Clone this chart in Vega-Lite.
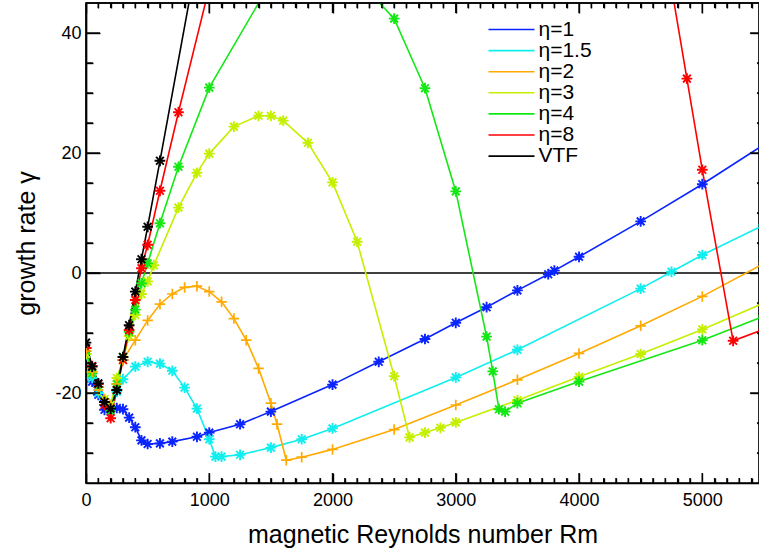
{
  "$schema": "https://vega.github.io/schema/vega-lite/v6.json",
  "width": 673,
  "height": 480,
  "autosize": {"type": "none"},
  "padding": {"left": 86, "top": 3, "right": 0, "bottom": 73},
  "background": "white",
  "config": {
    "font": "Liberation Sans",
    "view": {"stroke": "black", "strokeWidth": 1.7},
    "axis": {
      "domainColor": "black",
      "domainWidth": 1.7,
      "ticks": false,
      "tickSize": 0,
      "tickColor": "black",
      "tickWidth": 1.4,
      "grid": false,
      "labelColor": "black",
      "labelFont": "Liberation Sans",
      "labelFontSize": 18,
      "titleColor": "black",
      "titleFont": "Liberation Sans",
      "titleFontSize": 25,
      "titleFontWeight": "normal",
      "labelFlush": false,
      "labelOverlap": false
    },
    "legend": {
      "orient": "none",
      "legendX": 415,
      "legendY": 16,
      "symbolType": "M-4.6,0L4.6,0",
      "symbolSize": 100,
      "symbolStrokeWidth": 1.6,
      "labelFont": "Liberation Sans",
      "labelFontSize": 21,
      "labelColor": "black",
      "labelOffset": 16.5,
      "rowPadding": -0.9,
      "padding": 0
    }
  },
  "datasets": {
    "growth": [
      {"series": "η=1", "Rm": 0, "gamma": -12.5},
      {"series": "η=1", "Rm": 50, "gamma": -18.1},
      {"series": "η=1", "Rm": 100, "gamma": -20.3},
      {"series": "η=1", "Rm": 150, "gamma": -22.8},
      {"series": "η=1", "Rm": 200, "gamma": -23.0},
      {"series": "η=1", "Rm": 250, "gamma": -22.5},
      {"series": "η=1", "Rm": 300, "gamma": -22.7},
      {"series": "η=1", "Rm": 350, "gamma": -24.1},
      {"series": "η=1", "Rm": 400, "gamma": -25.7},
      {"series": "η=1", "Rm": 450, "gamma": -27.9},
      {"series": "η=1", "Rm": 500, "gamma": -28.5},
      {"series": "η=1", "Rm": 600, "gamma": -28.4},
      {"series": "η=1", "Rm": 700, "gamma": -28.1},
      {"series": "η=1", "Rm": 900, "gamma": -27.3},
      {"series": "η=1", "Rm": 1000, "gamma": -26.6},
      {"series": "η=1", "Rm": 1250, "gamma": -25.2},
      {"series": "η=1", "Rm": 1500, "gamma": -23.1},
      {"series": "η=1", "Rm": 2000, "gamma": -18.6},
      {"series": "η=1", "Rm": 2375, "gamma": -14.8},
      {"series": "η=1", "Rm": 2750, "gamma": -11.0},
      {"series": "η=1", "Rm": 3000, "gamma": -8.3},
      {"series": "η=1", "Rm": 3250, "gamma": -5.7},
      {"series": "η=1", "Rm": 3500, "gamma": -2.9},
      {"series": "η=1", "Rm": 3750, "gamma": -0.2},
      {"series": "η=1", "Rm": 3800, "gamma": 0.4},
      {"series": "η=1", "Rm": 4000, "gamma": 2.7},
      {"series": "η=1", "Rm": 4500, "gamma": 8.6},
      {"series": "η=1", "Rm": 5000, "gamma": 14.8},
      {"series": "η=1", "Rm": 5500, "gamma": 21.4},

      {"series": "η=1.5", "Rm": 0, "gamma": -13.5},
      {"series": "η=1.5", "Rm": 50, "gamma": -17.5},
      {"series": "η=1.5", "Rm": 100, "gamma": -20.0},
      {"series": "η=1.5", "Rm": 150, "gamma": -21.5},
      {"series": "η=1.5", "Rm": 200, "gamma": -22.0},
      {"series": "η=1.5", "Rm": 250, "gamma": -19.8},
      {"series": "η=1.5", "Rm": 300, "gamma": -17.7},
      {"series": "η=1.5", "Rm": 400, "gamma": -15.6},
      {"series": "η=1.5", "Rm": 500, "gamma": -14.8},
      {"series": "η=1.5", "Rm": 600, "gamma": -15.1},
      {"series": "η=1.5", "Rm": 700, "gamma": -16.3},
      {"series": "η=1.5", "Rm": 800, "gamma": -19.1},
      {"series": "η=1.5", "Rm": 900, "gamma": -22.6},
      {"series": "η=1.5", "Rm": 1000, "gamma": -27.7},
      {"series": "η=1.5", "Rm": 1050, "gamma": -30.6},
      {"series": "η=1.5", "Rm": 1100, "gamma": -30.6},
      {"series": "η=1.5", "Rm": 1250, "gamma": -30.3},
      {"series": "η=1.5", "Rm": 1500, "gamma": -29.1},
      {"series": "η=1.5", "Rm": 1750, "gamma": -27.7},
      {"series": "η=1.5", "Rm": 2000, "gamma": -25.9},
      {"series": "η=1.5", "Rm": 3000, "gamma": -17.4},
      {"series": "η=1.5", "Rm": 3500, "gamma": -12.8},
      {"series": "η=1.5", "Rm": 4500, "gamma": -2.6},
      {"series": "η=1.5", "Rm": 4750, "gamma": 0.2},
      {"series": "η=1.5", "Rm": 5000, "gamma": 3.0},
      {"series": "η=1.5", "Rm": 5500, "gamma": 8.0},

      {"series": "η=2", "Rm": 0, "gamma": -13.0},
      {"series": "η=2", "Rm": 50, "gamma": -16.5},
      {"series": "η=2", "Rm": 100, "gamma": -19.5},
      {"series": "η=2", "Rm": 150, "gamma": -21.0},
      {"series": "η=2", "Rm": 200, "gamma": -22.0},
      {"series": "η=2", "Rm": 250, "gamma": -18.5},
      {"series": "η=2", "Rm": 300, "gamma": -14.5},
      {"series": "η=2", "Rm": 400, "gamma": -11.2},
      {"series": "η=2", "Rm": 500, "gamma": -7.9},
      {"series": "η=2", "Rm": 600, "gamma": -5.2},
      {"series": "η=2", "Rm": 700, "gamma": -3.5},
      {"series": "η=2", "Rm": 800, "gamma": -2.4},
      {"series": "η=2", "Rm": 900, "gamma": -2.2},
      {"series": "η=2", "Rm": 1000, "gamma": -3.1},
      {"series": "η=2", "Rm": 1100, "gamma": -4.8},
      {"series": "η=2", "Rm": 1200, "gamma": -7.6},
      {"series": "η=2", "Rm": 1300, "gamma": -11.2},
      {"series": "η=2", "Rm": 1400, "gamma": -15.9},
      {"series": "η=2", "Rm": 1500, "gamma": -21.7},
      {"series": "η=2", "Rm": 1550, "gamma": -25.2},
      {"series": "η=2", "Rm": 1625, "gamma": -31.2},
      {"series": "η=2", "Rm": 1750, "gamma": -30.7},
      {"series": "η=2", "Rm": 2000, "gamma": -29.4},
      {"series": "η=2", "Rm": 2500, "gamma": -26.1},
      {"series": "η=2", "Rm": 3000, "gamma": -22.0},
      {"series": "η=2", "Rm": 3500, "gamma": -17.8},
      {"series": "η=2", "Rm": 4000, "gamma": -13.4},
      {"series": "η=2", "Rm": 4500, "gamma": -8.8},
      {"series": "η=2", "Rm": 5000, "gamma": -3.9},
      {"series": "η=2", "Rm": 5500, "gamma": 1.6},

      {"series": "η=3", "Rm": 0, "gamma": -13.5},
      {"series": "η=3", "Rm": 50, "gamma": -16.5},
      {"series": "η=3", "Rm": 100, "gamma": -19.0},
      {"series": "η=3", "Rm": 150, "gamma": -21.0},
      {"series": "η=3", "Rm": 200, "gamma": -22.0},
      {"series": "η=3", "Rm": 250, "gamma": -17.5},
      {"series": "η=3", "Rm": 300, "gamma": -14.5},
      {"series": "η=3", "Rm": 350, "gamma": -10.5},
      {"series": "η=3", "Rm": 400, "gamma": -7.0},
      {"series": "η=3", "Rm": 450, "gamma": -3.5},
      {"series": "η=3", "Rm": 500, "gamma": -1.4},
      {"series": "η=3", "Rm": 550, "gamma": 1.3},
      {"series": "η=3", "Rm": 750, "gamma": 10.9},
      {"series": "η=3", "Rm": 900, "gamma": 16.7},
      {"series": "η=3", "Rm": 1000, "gamma": 19.9},
      {"series": "η=3", "Rm": 1200, "gamma": 24.4},
      {"series": "η=3", "Rm": 1400, "gamma": 26.2},
      {"series": "η=3", "Rm": 1500, "gamma": 26.2},
      {"series": "η=3", "Rm": 1600, "gamma": 25.4},
      {"series": "η=3", "Rm": 1800, "gamma": 21.7},
      {"series": "η=3", "Rm": 2000, "gamma": 15.1},
      {"series": "η=3", "Rm": 2200, "gamma": 5.2},
      {"series": "η=3", "Rm": 2500, "gamma": -17.2},
      {"series": "η=3", "Rm": 2625, "gamma": -27.4},
      {"series": "η=3", "Rm": 2750, "gamma": -26.6},
      {"series": "η=3", "Rm": 2875, "gamma": -25.8},
      {"series": "η=3", "Rm": 3000, "gamma": -24.9},
      {"series": "η=3", "Rm": 3500, "gamma": -21.2},
      {"series": "η=3", "Rm": 4000, "gamma": -17.3},
      {"series": "η=3", "Rm": 4500, "gamma": -13.5},
      {"series": "η=3", "Rm": 5000, "gamma": -9.4},
      {"series": "η=3", "Rm": 5500, "gamma": -5.0},

      {"series": "η=4", "Rm": 0, "gamma": -13.0},
      {"series": "η=4", "Rm": 50, "gamma": -16.7},
      {"series": "η=4", "Rm": 100, "gamma": -19.0},
      {"series": "η=4", "Rm": 150, "gamma": -21.5},
      {"series": "η=4", "Rm": 200, "gamma": -23.0},
      {"series": "η=4", "Rm": 250, "gamma": -18.5},
      {"series": "η=4", "Rm": 300, "gamma": -14.0},
      {"series": "η=4", "Rm": 350, "gamma": -9.8},
      {"series": "η=4", "Rm": 400, "gamma": -6.1},
      {"series": "η=4", "Rm": 450, "gamma": -1.7},
      {"series": "η=4", "Rm": 500, "gamma": 1.6},
      {"series": "η=4", "Rm": 600, "gamma": 8.3},
      {"series": "η=4", "Rm": 750, "gamma": 17.7},
      {"series": "η=4", "Rm": 1000, "gamma": 30.9},
      {"series": "η=4", "Rm": 1500, "gamma": 48.5},
      {"series": "η=4", "Rm": 2000, "gamma": 52.0},
      {"series": "η=4", "Rm": 2250, "gamma": 47.9},
      {"series": "η=4", "Rm": 2500, "gamma": 42.4},
      {"series": "η=4", "Rm": 2750, "gamma": 30.8},
      {"series": "η=4", "Rm": 3000, "gamma": 13.6},
      {"series": "η=4", "Rm": 3250, "gamma": -10.6},
      {"series": "η=4", "Rm": 3300, "gamma": -16.4},
      {"series": "η=4", "Rm": 3350, "gamma": -22.7},
      {"series": "η=4", "Rm": 3400, "gamma": -23.1},
      {"series": "η=4", "Rm": 3500, "gamma": -21.7},
      {"series": "η=4", "Rm": 4000, "gamma": -18.1},
      {"series": "η=4", "Rm": 5000, "gamma": -11.2},
      {"series": "η=4", "Rm": 5500, "gamma": -7.2},

      {"series": "η=8", "Rm": 0, "gamma": -12.5},
      {"series": "η=8", "Rm": 50, "gamma": -15.5},
      {"series": "η=8", "Rm": 100, "gamma": -18.5},
      {"series": "η=8", "Rm": 150, "gamma": -22.0},
      {"series": "η=8", "Rm": 200, "gamma": -24.2},
      {"series": "η=8", "Rm": 250, "gamma": -19.5},
      {"series": "η=8", "Rm": 300, "gamma": -14.5},
      {"series": "η=8", "Rm": 350, "gamma": -9.5},
      {"series": "η=8", "Rm": 400, "gamma": -4.5},
      {"series": "η=8", "Rm": 450, "gamma": 0.8},
      {"series": "η=8", "Rm": 500, "gamma": 4.7},
      {"series": "η=8", "Rm": 600, "gamma": 13.7},
      {"series": "η=8", "Rm": 750, "gamma": 26.8},
      {"series": "η=8", "Rm": 1000, "gamma": 47.6},
      {"series": "η=8", "Rm": 4750, "gamma": 47.6},
      {"series": "η=8", "Rm": 4875, "gamma": 32.4},
      {"series": "η=8", "Rm": 5000, "gamma": 17.2},
      {"series": "η=8", "Rm": 5250, "gamma": -11.3},
      {"series": "η=8", "Rm": 5500, "gamma": -9.4},

      {"series": "VTF", "Rm": 0, "gamma": -11.6},
      {"series": "VTF", "Rm": 50, "gamma": -15.6},
      {"series": "VTF", "Rm": 100, "gamma": -18.4},
      {"series": "VTF", "Rm": 150, "gamma": -21.5},
      {"series": "VTF", "Rm": 200, "gamma": -22.6},
      {"series": "VTF", "Rm": 250, "gamma": -19.5},
      {"series": "VTF", "Rm": 300, "gamma": -14.0},
      {"series": "VTF", "Rm": 350, "gamma": -8.7},
      {"series": "VTF", "Rm": 400, "gamma": -3.1},
      {"series": "VTF", "Rm": 450, "gamma": 2.3},
      {"series": "VTF", "Rm": 500, "gamma": 7.7},
      {"series": "VTF", "Rm": 600, "gamma": 18.7},
      {"series": "VTF", "Rm": 1000, "gamma": 63.5}
    ],
    "rmMajor": [{"Rm": 0}, {"Rm": 1000}, {"Rm": 2000}, {"Rm": 3000}, {"Rm": 4000}, {"Rm": 5000}],
    "rmMinor": [
      {"Rm": 100}, {"Rm": 200}, {"Rm": 300}, {"Rm": 400}, {"Rm": 500}, {"Rm": 600}, {"Rm": 700}, {"Rm": 800}, {"Rm": 900},
      {"Rm": 1100}, {"Rm": 1200}, {"Rm": 1300}, {"Rm": 1400}, {"Rm": 1500}, {"Rm": 1600}, {"Rm": 1700}, {"Rm": 1800}, {"Rm": 1900},
      {"Rm": 2100}, {"Rm": 2200}, {"Rm": 2300}, {"Rm": 2400}, {"Rm": 2500}, {"Rm": 2600}, {"Rm": 2700}, {"Rm": 2800}, {"Rm": 2900},
      {"Rm": 3100}, {"Rm": 3200}, {"Rm": 3300}, {"Rm": 3400}, {"Rm": 3500}, {"Rm": 3600}, {"Rm": 3700}, {"Rm": 3800}, {"Rm": 3900},
      {"Rm": 4100}, {"Rm": 4200}, {"Rm": 4300}, {"Rm": 4400}, {"Rm": 4500}, {"Rm": 4600}, {"Rm": 4700}, {"Rm": 4800}, {"Rm": 4900},
      {"Rm": 5100}, {"Rm": 5200}, {"Rm": 5300}, {"Rm": 5400}
    ],
    "gammaMajor": [{"gamma": -20}, {"gamma": 0}, {"gamma": 20}, {"gamma": 40}],
    "gammaMinor": [
      {"gamma": -30}, {"gamma": -25}, {"gamma": -15}, {"gamma": -10}, {"gamma": -5}, {"gamma": 5},
      {"gamma": 10}, {"gamma": 15}, {"gamma": 25}, {"gamma": 30}, {"gamma": 35}
    ]
  },
  "data": {"name": "growth"},
  "resolve": {"axis": {"x": "independent", "y": "independent"}},
  "layer": [
    {
      "data": {"values": [{}]},
      "mark": {"type": "rule", "color": "black", "strokeWidth": 1.7},
      "encoding": {
        "y": {"datum": 0, "type": "quantitative", "scale": {"domain": [-35, 45], "nice": false, "zero": false}, "axis": null}
      }
    },
    {
      "mark": {"type": "line", "strokeWidth": 1.6, "clip": true},
      "encoding": {
        "x": {
          "field": "Rm", "type": "quantitative",
          "scale": {"domain": [0, 5460], "nice": false, "zero": false},
          "axis": {
            "orient": "bottom",
            "title": "magnetic Reynolds number Rm",
            "titlePadding": 13,
            "values": [0, 1000, 2000, 3000, 4000, 5000],
            "format": "d",
            "labelPadding": 8
          }
        },
        "y": {
          "field": "gamma", "type": "quantitative",
          "scale": {"domain": [-35, 45], "nice": false, "zero": false},
          "axis": {
            "orient": "left",
            "title": "growth rate γ",
            "titlePadding": 15,
            "values": [-20, 0, 20, 40],
            "labelExpr": "'' + datum.value",
            "labelPadding": 5
          }
        },
        "color": {
          "field": "series", "type": "nominal",
          "scale": {
            "domain": ["η=1", "η=1.5", "η=2", "η=3", "η=4", "η=8", "VTF"],
            "range": ["#0a24ff", "#10eeee", "#ffaa00", "#c4f000", "#14e814", "#ff0000", "#000000"]
          },
          "legend": {"title": null}
        }
      }
    },
    {
      "transform": [{"filter": "datum.series !== 'η=2' && datum.series !== 'VTF'"}],
      "mark": {
        "type": "point",
        "shape": "M-1,0L1,0M0,-1L0,1M-0.72,-0.72L0.72,0.72M-0.72,0.72L0.72,-0.72",
        "filled": false,
        "size": 115,
        "strokeWidth": 1.9,
        "opacity": 1,
        "clip": true
      },
      "encoding": {
        "x": {"field": "Rm", "type": "quantitative", "scale": {"domain": [0, 5460], "nice": false, "zero": false}, "axis": null},
        "y": {"field": "gamma", "type": "quantitative", "scale": {"domain": [-35, 45], "nice": false, "zero": false}, "axis": null},
        "color": {
          "field": "series", "type": "nominal",
          "scale": {
            "domain": ["η=1", "η=1.5", "η=2", "η=3", "η=4", "η=8", "VTF"],
            "range": ["#0a24ff", "#10eeee", "#ffaa00", "#c4f000", "#14e814", "#ff0000", "#000000"]
          },
          "legend": null
        }
      }
    },
    {
      "transform": [{"filter": "datum.series === 'η=2'"}],
      "mark": {
        "type": "point",
        "shape": "M-1,0L1,0M0,-1L0,1",
        "filled": false,
        "size": 110,
        "strokeWidth": 1.7,
        "opacity": 1,
        "clip": true
      },
      "encoding": {
        "x": {"field": "Rm", "type": "quantitative", "scale": {"domain": [0, 5460], "nice": false, "zero": false}, "axis": null},
        "y": {"field": "gamma", "type": "quantitative", "scale": {"domain": [-35, 45], "nice": false, "zero": false}, "axis": null},
        "color": {
          "field": "series", "type": "nominal",
          "scale": {
            "domain": ["η=1", "η=1.5", "η=2", "η=3", "η=4", "η=8", "VTF"],
            "range": ["#0a24ff", "#10eeee", "#ffaa00", "#c4f000", "#14e814", "#ff0000", "#000000"]
          },
          "legend": null
        }
      }
    },
    {
      "transform": [{"filter": "datum.series === 'VTF'"}],
      "mark": {
        "type": "point",
        "shape": "M-1,0L1,0M0,-1L0,1M-0.72,-0.72L0.72,0.72M-0.72,0.72L0.72,-0.72",
        "filled": false,
        "size": 115,
        "strokeWidth": 1.9,
        "opacity": 1,
        "clip": true
      },
      "encoding": {
        "x": {"field": "Rm", "type": "quantitative", "scale": {"domain": [0, 5460], "nice": false, "zero": false}, "axis": null},
        "y": {"field": "gamma", "type": "quantitative", "scale": {"domain": [-35, 45], "nice": false, "zero": false}, "axis": null},
        "color": {
          "field": "series", "type": "nominal",
          "scale": {
            "domain": ["η=1", "η=1.5", "η=2", "η=3", "η=4", "η=8", "VTF"],
            "range": ["#0a24ff", "#10eeee", "#ffaa00", "#c4f000", "#14e814", "#ff0000", "#000000"]
          },
          "legend": null
        }
      }
    },
    {
      "data": {"values": [{}]},
      "mark": {"type": "rule", "color": "black", "strokeWidth": 1.7},
      "encoding": {
        "y": {"datum": 45, "type": "quantitative", "scale": {"domain": [-35, 45], "nice": false, "zero": false}, "axis": null}
      }
    },
    {
      "data": {"name": "rmMajor"},
      "mark": {"type": "tick", "orient": "vertical", "size": 20, "thickness": 1.4, "color": "black", "opacity": 1, "clip": true},
      "encoding": {
        "x": {
          "field": "Rm", "type": "quantitative", "scale": {"domain": [0, 5460], "nice": false, "zero": false},
          "axis": {"orient": "bottom", "offset": -10, "ticks": true, "tickSize": 10, "labels": false, "domain": false, "title": null, "values": [0, 1000, 2000, 3000, 4000, 5000]}
        },
        "y": {"datum": -35, "type": "quantitative", "scale": {"domain": [-35, 45], "nice": false, "zero": false}, "axis": null}
      }
    },
    {
      "data": {"name": "rmMajor"},
      "mark": {"type": "tick", "orient": "vertical", "size": 20, "thickness": 1.4, "color": "black", "opacity": 1, "clip": true},
      "encoding": {
        "x": {
          "field": "Rm", "type": "quantitative", "scale": {"domain": [0, 5460], "nice": false, "zero": false},
          "axis": {"orient": "top", "offset": -10, "ticks": true, "tickSize": 10, "labels": false, "domain": false, "title": null, "values": [0, 1000, 2000, 3000, 4000, 5000]}
        },
        "y": {"datum": 45, "type": "quantitative", "scale": {"domain": [-35, 45], "nice": false, "zero": false}, "axis": null}
      }
    },
    {
      "data": {"name": "rmMinor"},
      "mark": {"type": "tick", "orient": "vertical", "size": 10, "thickness": 1.4, "color": "black", "opacity": 1, "clip": true},
      "encoding": {
        "x": {
          "field": "Rm", "type": "quantitative", "scale": {"domain": [0, 5460], "nice": false, "zero": false},
          "axis": {"orient": "bottom", "offset": -5, "ticks": true, "tickSize": 5, "labels": false, "domain": false, "title": null,
                   "values": [100,200,300,400,500,600,700,800,900,1100,1200,1300,1400,1500,1600,1700,1800,1900,2100,2200,2300,2400,2500,2600,2700,2800,2900,3100,3200,3300,3400,3500,3600,3700,3800,3900,4100,4200,4300,4400,4500,4600,4700,4800,4900,5100,5200,5300,5400]}
        },
        "y": {"datum": -35, "type": "quantitative", "scale": {"domain": [-35, 45], "nice": false, "zero": false}, "axis": null}
      }
    },
    {
      "data": {"name": "rmMinor"},
      "mark": {"type": "tick", "orient": "vertical", "size": 10, "thickness": 1.4, "color": "black", "opacity": 1, "clip": true},
      "encoding": {
        "x": {
          "field": "Rm", "type": "quantitative", "scale": {"domain": [0, 5460], "nice": false, "zero": false},
          "axis": {"orient": "top", "offset": -5, "ticks": true, "tickSize": 5, "labels": false, "domain": false, "title": null,
                   "values": [100,200,300,400,500,600,700,800,900,1100,1200,1300,1400,1500,1600,1700,1800,1900,2100,2200,2300,2400,2500,2600,2700,2800,2900,3100,3200,3300,3400,3500,3600,3700,3800,3900,4100,4200,4300,4400,4500,4600,4700,4800,4900,5100,5200,5300,5400]}
        },
        "y": {"datum": 45, "type": "quantitative", "scale": {"domain": [-35, 45], "nice": false, "zero": false}, "axis": null}
      }
    },
    {
      "data": {"name": "gammaMajor"},
      "mark": {"type": "tick", "orient": "horizontal", "size": 28, "thickness": 1.4, "color": "black", "opacity": 1, "clip": true},
      "encoding": {
        "y": {
          "field": "gamma", "type": "quantitative", "scale": {"domain": [-35, 45], "nice": false, "zero": false},
          "axis": {"orient": "left", "offset": -14, "ticks": true, "tickSize": 14, "labels": false, "domain": false, "title": null, "values": [-20, 0, 20, 40]}
        },
        "x": {"datum": 0, "type": "quantitative", "scale": {"domain": [0, 5460], "nice": false, "zero": false}, "axis": null}
      }
    },
    {
      "data": {"name": "gammaMajor"},
      "mark": {"type": "tick", "orient": "horizontal", "size": 28, "thickness": 1.4, "color": "black", "opacity": 1, "clip": true},
      "encoding": {
        "y": {
          "field": "gamma", "type": "quantitative", "scale": {"domain": [-35, 45], "nice": false, "zero": false},
          "axis": {"orient": "right", "offset": -9, "ticks": true, "tickSize": 14, "labels": false, "domain": false, "title": null, "values": [-20, 0, 20, 40]}
        },
        "x": {"datum": 5500, "type": "quantitative", "scale": {"domain": [0, 5460], "nice": false, "zero": false}, "axis": null}
      }
    },
    {
      "data": {"name": "gammaMinor"},
      "mark": {"type": "tick", "orient": "horizontal", "size": 14, "thickness": 1.4, "color": "black", "opacity": 1, "clip": true},
      "encoding": {
        "y": {
          "field": "gamma", "type": "quantitative", "scale": {"domain": [-35, 45], "nice": false, "zero": false},
          "axis": {"orient": "left", "offset": -7, "ticks": true, "tickSize": 7, "labels": false, "domain": false, "title": null, "values": [-30, -25, -15, -10, -5, 5, 10, 15, 25, 30, 35]}
        },
        "x": {"datum": 0, "type": "quantitative", "scale": {"domain": [0, 5460], "nice": false, "zero": false}, "axis": null}
      }
    },
    {
      "data": {"name": "gammaMinor"},
      "mark": {"type": "tick", "orient": "horizontal", "size": 14, "thickness": 1.4, "color": "black", "opacity": 1, "clip": true},
      "encoding": {
        "y": {
          "field": "gamma", "type": "quantitative", "scale": {"domain": [-35, 45], "nice": false, "zero": false},
          "axis": {"orient": "right", "offset": -2, "ticks": true, "tickSize": 7, "labels": false, "domain": false, "title": null, "values": [-30, -25, -15, -10, -5, 5, 10, 15, 25, 30, 35]}
        },
        "x": {"datum": 5500, "type": "quantitative", "scale": {"domain": [0, 5460], "nice": false, "zero": false}, "axis": null}
      }
    }
  ]
}
